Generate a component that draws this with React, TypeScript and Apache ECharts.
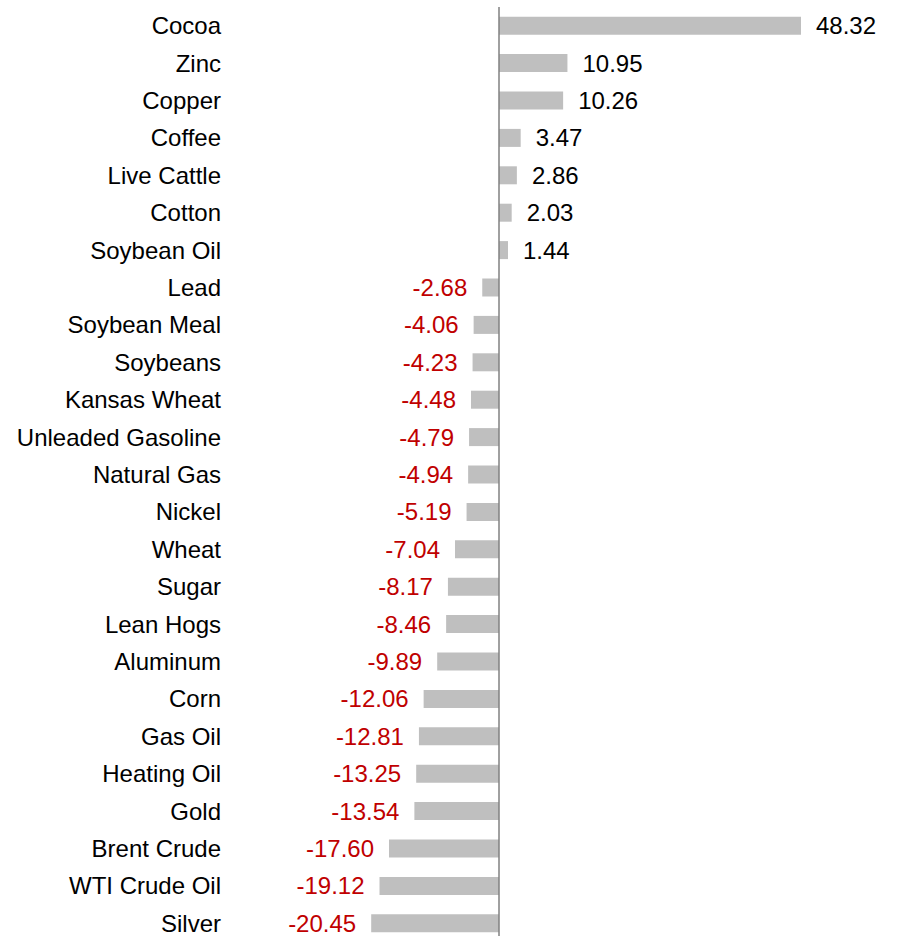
import React, { useEffect, useRef } from "react";
import * as echarts from "echarts";

const categories = [
  "Cocoa", "Zinc", "Copper", "Coffee", "Live Cattle", "Cotton", "Soybean Oil",
  "Lead", "Soybean Meal", "Soybeans", "Kansas Wheat", "Unleaded Gasoline",
  "Natural Gas", "Nickel", "Wheat", "Sugar", "Lean Hogs", "Aluminum", "Corn",
  "Gas Oil", "Heating Oil", "Gold", "Brent Crude", "WTI Crude Oil", "Silver",
];
const values = [
  48.32, 10.95, 10.26, 3.47, 2.86, 2.03, 1.44,
  -2.68, -4.06, -4.23, -4.48, -4.79, -4.94, -5.19, -7.04, -8.17, -8.46, -9.89,
  -12.06, -12.81, -13.25, -13.54, -17.6, -19.12, -20.45,
];

export default function App() {
  const ref = useRef<HTMLDivElement>(null);
  useEffect(() => {
    document.body.style.margin = "0";
    document.body.style.overflow = "hidden";
    const chart = echarts.init(ref.current!, null, { renderer: "svg" });
    const font = "Arial, 'Liberation Sans', sans-serif";
    chart.setOption({
      animation: false,
      grid: { left: 249, top: 7, width: 625, height: 935, containLabel: false },
      xAxis: {
        type: "value",
        min: -40,
        max: 60,
        show: false,
      },
      yAxis: {
        type: "category",
        data: categories,
        inverse: true,
        axisLine: { show: false },
        axisTick: { show: false },
        axisLabel: { margin: 28, fontSize: 24, color: "#000", fontFamily: font },
      },
      series: [
        {
          type: "bar",
          barWidth: 18,
          itemStyle: { color: "#BFBFBF" },
          data: values.map((v) => ({
            value: v,
            label: {
              show: true,
              position: v >= 0 ? "right" : "left",
              distance: 15,
              fontSize: 24,
              fontFamily: font,
              color: v >= 0 ? "#000" : "#C00000",
              formatter: () => v.toFixed(2),
            },
          })),
          markLine: {
            silent: true,
            symbol: "none",
            label: { show: false },
            lineStyle: { color: "#808080", width: 1.5, type: "solid" },
            data: [{ xAxis: 0 }],
          },
        },
      ],
    });
    return () => chart.dispose();
  }, []);
  return (
    <div style={{ width: 897, height: 936, overflow: "hidden" }}>
      <div ref={ref} style={{ width: 897, height: 950 }} />
    </div>
  );
}
